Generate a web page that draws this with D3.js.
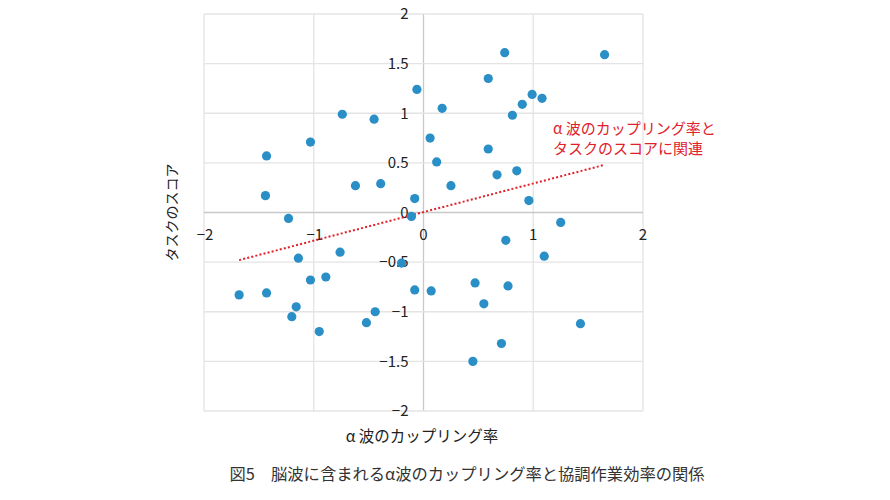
<!DOCTYPE html>
<html>
<head>
<meta charset="utf-8">
<script src="https://cdn.jsdelivr.net/npm/d3@7"></script>
<style>
  body { margin: 0; background: #fff; }
  text { font-family: "Noto Sans CJK JP", "Noto Sans", sans-serif; }
</style>
</head>
<body>
<div id="chart"></div>
<script>
var width = 890;
var height = 500;

// coupling rate (x) and task score (y)
var couplingRate = [-0.06, -0.74, -0.45, -1.03, -1.43, 0.06, 0.12, -1.44, -0.62, -0.39,
    -0.08, -0.11, -1.23, 0.74, 1.65, 0.59, 0.17, 0.99, 1.08, 0.90,
    0.81, 0.59, 0.67, 0.85, 0.25, 0.96, 1.25, 0.75, 1.10, 0.47,
    0.77, 0.07, -0.08, 0.55, 1.43, 0.71, 0.45, -0.76, -1.14, -0.20,
    -1.03, -0.89, -1.68, -1.43, -1.16, -1.20, -0.44, -0.52, -0.95];
var taskScore = [1.24, 0.99, 0.94, 0.71, 0.57, 0.75, 0.51, 0.17, 0.27, 0.29,
    0.14, -0.04, -0.06, 1.61, 1.59, 1.35, 1.05, 1.19, 1.15, 1.09,
    0.98, 0.64, 0.38, 0.42, 0.27, 0.12, -0.10, -0.28, -0.44, -0.71,
    -0.74, -0.79, -0.78, -0.92, -1.12, -1.32, -1.50, -0.40, -0.46, -0.51,
    -0.68, -0.65, -0.83, -0.81, -0.95, -1.05, -1.00, -1.11, -1.20];

var trendX = [-1.68, 1.65];
var trendY = [-0.48, 0.48];

var xTicks = [-2, -1, 0, 1, 2];
var yTicks = [-2, -1.5, -1, -0.5, 0, 0.5, 1, 1.5, 2];

var svg = d3.select("#chart").append("svg")
    .attr("width", width)
    .attr("height", height);

var x = d3.scaleLinear().domain([-2, 2]).range([204, 643]);
var y = d3.scaleLinear().domain([-2, 2]).range([411, 14]);

// grid
svg.append("g").selectAll("line.v")
    .data(xTicks)
    .enter().append("line")
    .attr("x1", function(d){ return x(d); })
    .attr("x2", function(d){ return x(d); })
    .attr("y1", y(2))
    .attr("y2", y(-2))
    .style("stroke", function(d){ return d === 0 ? "#c8c8c8" : "#e4e4e4"; })
    .style("stroke-width", 1.3);

svg.append("g").selectAll("line.h")
    .data(yTicks)
    .enter().append("line")
    .attr("y1", function(d){ return y(d); })
    .attr("y2", function(d){ return y(d); })
    .attr("x1", x(-2))
    .attr("x2", x(2))
    .style("stroke", function(d){ return d === 0 ? "#c8c8c8" : "#e4e4e4"; })
    .style("stroke-width", 1.3);

var fmt = d3.format("");

// x tick labels
svg.append("g").selectAll("text")
    .data(xTicks)
    .enter().append("text")
    .attr("x", function(d){ return x(d) + (d < 0 ? 1 : 0); })
    .attr("y", y(0) + 27)
    .attr("text-anchor", "middle")
    .style("font-size", "15px")
    .style("fill", "#222")
    .text(function(d){ return fmt(d); });

// y tick labels
svg.append("g").selectAll("text")
    .data(yTicks)
    .enter().append("text")
    .attr("x", x(0) - 15)
    .attr("y", function(d){ return y(d); })
    .attr("dy", "0.35em")
    .attr("text-anchor", "end")
    .style("font-size", "15px")
    .style("fill", "#222")
    .text(function(d){ return fmt(d); });

// trend line
svg.append("line")
    .attr("x1", x(trendX[0]))
    .attr("y1", y(trendY[0]))
    .attr("x2", x(trendX[1]))
    .attr("y2", y(trendY[1]))
    .style("stroke", "#e0202a")
    .style("stroke-width", 2)
    .style("stroke-dasharray", "2,2.2");

// points
svg.append("g").selectAll("circle")
    .data(couplingRate)
    .enter().append("circle")
    .attr("cx", function(d){ return x(d); })
    .attr("cy", function(d, i){ return y(taskScore[i]); })
    .attr("r", 4.6)
    .style("fill", "#2a8fc6");

// annotation
var note = svg.append("text")
    .attr("x", 553)
    .attr("y", 134)
    .style("font-size", "15px")
    .style("fill", "#e0202a");
note.append("tspan").attr("x", 553).text("α 波のカップリング率と");
note.append("tspan").attr("x", 553).attr("dy", 20).text("タスクのスコアに関連");

// axis titles
svg.append("text")
    .attr("x", 422)
    .attr("y", 442)
    .attr("text-anchor", "middle")
    .style("font-size", "15.5px")
    .style("fill", "#222")
    .text("α 波のカップリング率");

svg.append("text")
    .attr("transform", "rotate(-90)")
    .attr("x", -y(0))
    .attr("y", 177)
    .attr("text-anchor", "middle")
    .style("font-size", "14px")
    .style("fill", "#222")
    .text("タスクのスコア");

// caption
svg.append("text")
    .attr("x", 467)
    .attr("y", 480)
    .attr("text-anchor", "middle")
    .style("font-size", "16.3px")
    .style("fill", "#333")
    .text("図5　脳波に含まれるα波のカップリング率と協調作業効率の関係");
</script>
</body>
</html>
